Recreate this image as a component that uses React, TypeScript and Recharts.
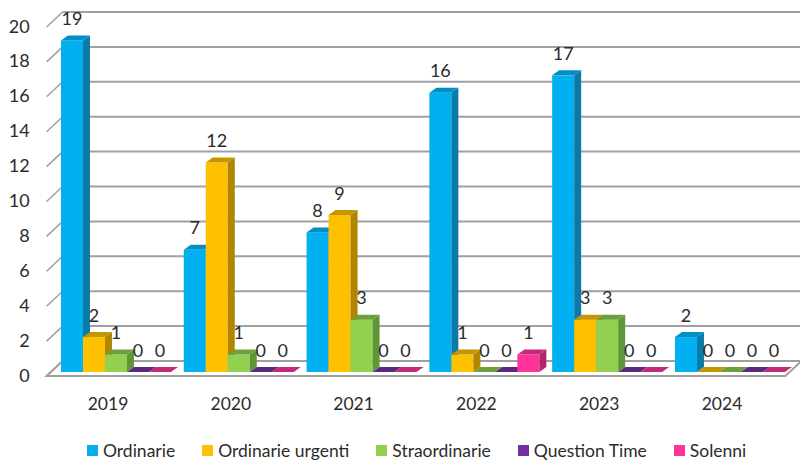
import { BarChart, Bar, XAxis, YAxis, CartesianGrid, Legend, LabelList } from 'recharts';

const years = ['2019', '2020', '2021', '2022', '2023', '2024'];
const ordinarie = [19, 7, 8, 16, 17, 2];
const ordinarieUrgenti = [2, 12, 9, 1, 3, 0];
const straordinarie = [1, 1, 3, 0, 3, 0];
const questionTime = [0, 0, 0, 0, 0, 0];
const solenni = [0, 0, 0, 1, 0, 0];
const yTicks = [0, 2, 4, 6, 8, 10, 12, 14, 16, 18, 20];

const seriesList = [
  { key: 'Ordinarie', values: ordinarie, front: '#00B0F0', side: '#0A7BA6', top: '#0090C6' },
  { key: 'Ordinarie urgenti', values: ordinarieUrgenti, front: '#FFC000', side: '#B08600', top: '#C49600' },
  { key: 'Straordinarie', values: straordinarie, front: '#92D050', side: '#5F9636', top: '#6FA03E' },
  { key: 'Question Time', values: questionTime, front: '#7030A0', side: '#4E2270', top: '#5A2A80' },
  { key: 'Solenni', values: solenni, front: '#FF3399', side: '#B3246B', top: '#C42A78' },
];

const data = years.map((year, i) => {
  const row: Record<string, string | number> = { year };
  seriesList.forEach((s) => {
    row[s.key] = s.values[i];
  });
  return row;
});

const FONT = 'Lato, "Open Sans", sans-serif';
const GRID = '#A0A0A0';
const TEXT = '#2B2B2B';

// fake 3d depth of the bars, and where the back wall and front edge sit
const DX = 7;
const DY = 5;
const BACK_X = 9;
const BACK_Y = 11;
const FRONT_X = 7;
const FRONT_Y = 4;

function Bar3D(props: any, s: (typeof seriesList)[number]) {
  const { x, y, width, height } = props;
  const bottom = y + height;
  const right = x + width;
  return (
    <g>
      {height > 0 && <rect x={x} y={y} width={width} height={height} fill={s.front} />}
      {height > 0 && (
        <polygon
          points={`${right},${y} ${right + DX},${y - DY} ${right + DX},${bottom - DY} ${right},${bottom}`}
          fill={s.side}
        />
      )}
      <polygon
        points={`${x},${y} ${x + DX},${y - DY} ${right + DX},${y - DY} ${right},${y}`}
        fill={s.top}
      />
    </g>
  );
}

function GridLine(props: any) {
  const { x1, x2, y1 } = props;
  const isFloor = y1 > 360;
  return (
    <g>
      {isFloor && (
        <polygon
          points={`${x1 - FRONT_X},${y1 + FRONT_Y} ${x1 + BACK_X},${y1 - BACK_Y} ${x2 + BACK_X + 2},${y1 - BACK_Y} ${x2 - FRONT_X + 2},${y1 + FRONT_Y}`}
          fill="#FFFFFF"
          stroke={GRID}
          strokeWidth={2}
        />
      )}
      <line x1={x1 + BACK_X} x2={800} y1={y1 - BACK_Y} y2={y1 - BACK_Y} stroke={GRID} strokeWidth={2} />
      <line
        x1={x1 - FRONT_X}
        x2={x1 + BACK_X}
        y1={y1 + FRONT_Y}
        y2={y1 - BACK_Y}
        stroke={GRID}
        strokeWidth={1.5}
      />
    </g>
  );
}

function YTick(props: any) {
  const { x, y, payload } = props;
  return (
    <text x={x} y={y + 5} textAnchor="end" dominantBaseline="middle" fontFamily={FONT} fontSize={18} fill={TEXT}>
      {payload.value}
    </text>
  );
}

function XTick(props: any) {
  const { x, y, payload } = props;
  return (
    <text x={x - 7} y={y} textAnchor="middle" dominantBaseline="middle" fontFamily={FONT} fontSize={17.5} fill={TEXT}>
      {payload.value}
    </text>
  );
}

function ValueLabel(props: any) {
  const { x, y, width, value } = props;
  return (
    <text
      x={x + width / 2}
      y={y - 20}
      textAnchor="middle"
      dominantBaseline="middle"
      fontFamily={FONT}
      fontSize={18}
      fill={TEXT}
    >
      {value}
    </text>
  );
}

function LegendRow() {
  return (
    <div style={{ display: 'flex', paddingLeft: 87, gap: 27, fontFamily: FONT, fontSize: 17.5, color: TEXT }}>
      {seriesList.map((s) => (
        <span key={s.key} style={{ display: 'flex', alignItems: 'center', gap: 5 }}>
          <span style={{ width: 11, height: 11, background: s.front, display: 'inline-block' }} />
          {s.key}
        </span>
      ))}
    </div>
  );
}

export default function App() {
  return (
    <div style={{ position: 'absolute', left: 0, top: 0, width: 800, height: 461, background: '#FFFFFF', overflow: 'hidden' }}>
      <BarChart
        width={800}
        height={461}
        data={data}
        margin={{ top: 23, right: 9.6, bottom: 8, left: 29.6 }}
        barCategoryGap="6%"
        barGap={0}
      >
        <CartesianGrid vertical={false} horizontal={GridLine as any} syncWithTicks />
        <XAxis
          dataKey="year"
          axisLine={false}
          tickLine={false}
          tick={XTick as any}
          height={60}
          tickSize={0}
          tickMargin={34}
          interval={0}
        />
        <YAxis
          domain={[0, 20]}
          ticks={yTicks}
          interval={0}
          axisLine={false}
          tickLine={false}
          tick={YTick as any}
          width={24}
          tickSize={0}
          tickMargin={24}
        />
        <Legend content={LegendRow as any} wrapperStyle={{ left: 0, width: 800, bottom: 0 }} />
        {seriesList.map((s) => (
          <Bar
            key={s.key}
            dataKey={s.key}
            fill={s.front}
            isAnimationActive={false}
            shape={(p: any) => Bar3D(p, s)}
          >
            <LabelList dataKey={s.key} content={ValueLabel as any} />
          </Bar>
        ))}
      </BarChart>
    </div>
  );
}
